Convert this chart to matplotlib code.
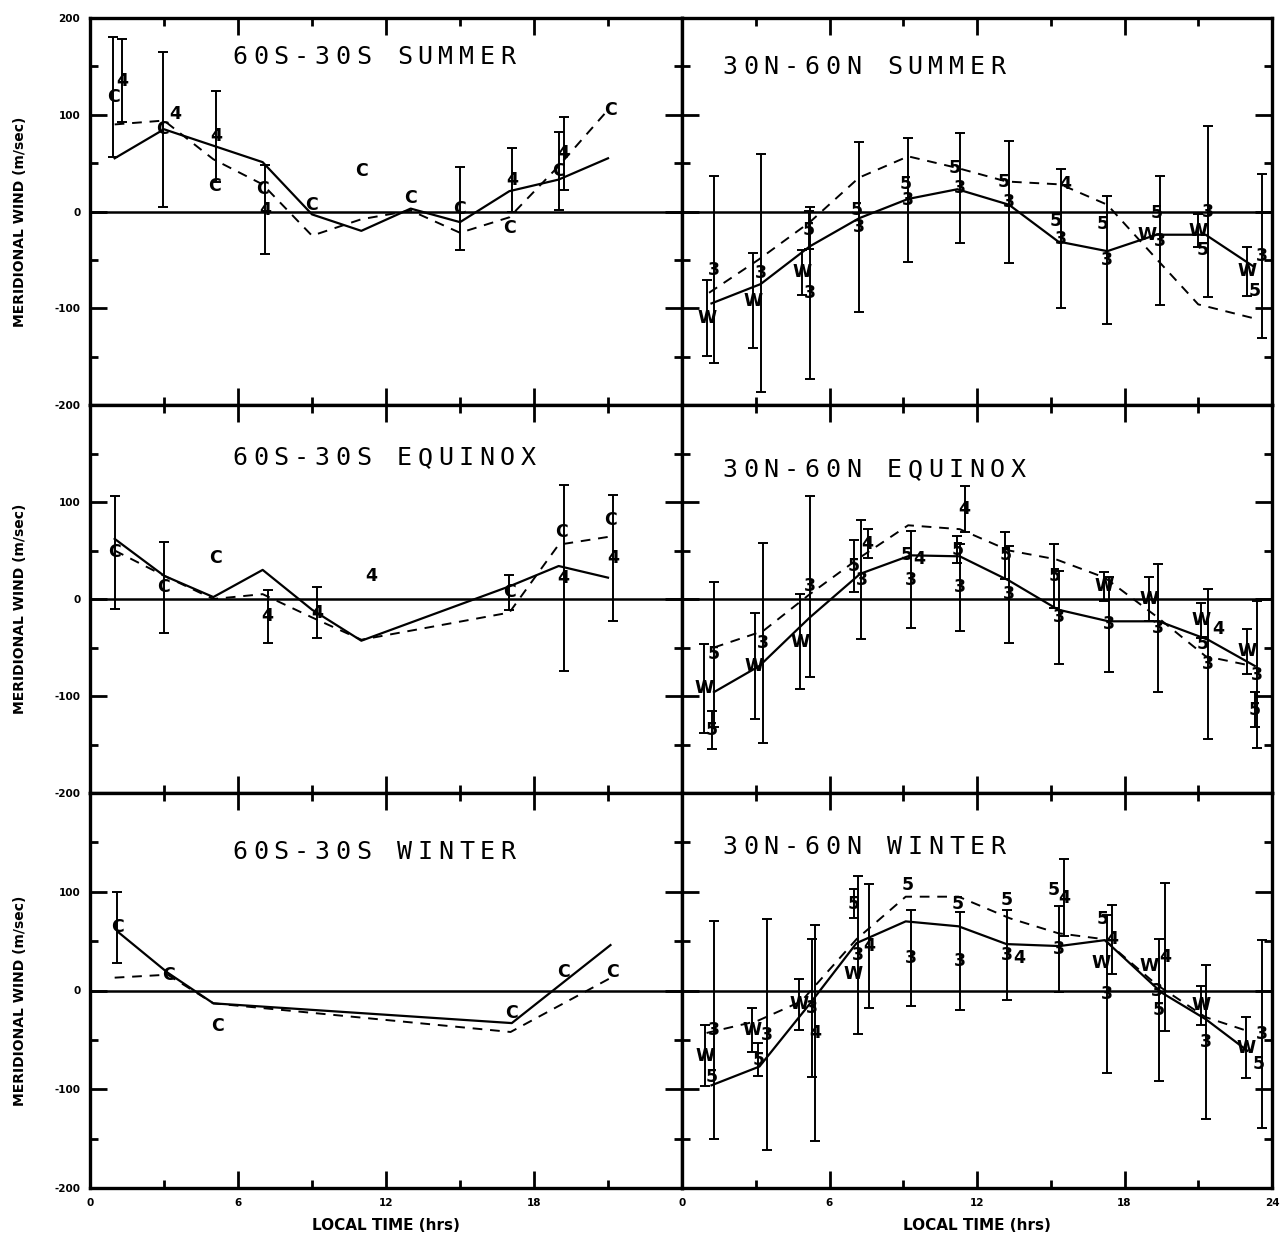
import matplotlib
matplotlib.use("Agg")
import matplotlib.pyplot as plt
from matplotlib import transforms
import numpy as np

# ---------------- data ----------------
# Panel 1: 60S-30S SUMMER
p1_solid_h = [1, 3, 7, 9, 11, 13, 15, 17, 19, 21]
p1_solid_v = [55, 85, 51, -3, -20, 3, -11, 21, 33, 55]
p1_dash_h = [1, 3, 5, 7, 9, 11, 13, 15, 17, 19, 21]
p1_dash_v = [90, 94, 54, 28, -25, -8, 1, -22, -6, 47, 105]
p1_lab = ["C", "4", "C", "4", "4", "C", "C", "4", "C", "C", "C", "C", "4", "C", "C", "4", "C"]
p1_h = [0.95, 1.3, 2.95, 3.45, 5.1, 5.05, 7.0, 7.1, 9.0, 11.0, 13.0, 15.0, 17.1, 17.0, 19.0, 19.2, 21.1]
p1_v = [118, 135, 85, 101, 78, 26, 23, 2, 7, 42, 14, 3, 33, -17, 42, 60, 105]
p1_e = [62, 43, 80, 0, 47, 0, 0, 46, 0, 0, 0, 43, 33, 0, 40, 38, 0]

# Panel 2: 30N-60N SUMMER
p2_solid_h = [1.2, 3.2, 5.2, 7.2, 9.2, 11.2, 13.3, 15.3, 17.3, 19.3, 21.3, 23.2]
p2_solid_v = [-95, -75, -36, -7, 13, 23, 7, -31, -41, -24, -24, -56]
p2_dash_h = [1.1, 3.1, 5.2, 7.2, 9.2, 11.2, 13.2, 15.4, 17.3, 19.3, 21.0, 23.2]
p2_dash_v = [-84, -50, -11, 35, 57, 45, 31, 28, 7, -49, -96, -110]
p2_lab = ["W", "3", "W", "3", "W", "5", "3", "5", "3", "5", "3", "5", "3", "5", "3",
          "4", "5", "3", "5", "3", "5", "W", "3", "3", "W", "5", "3", "W", "5"]
p2_h = [1.0, 1.3, 2.9, 3.2, 4.9, 5.15, 5.2, 7.1, 7.2, 9.1, 9.2, 11.1, 11.3, 13.1, 13.3,
        15.6, 15.2, 15.4, 17.1, 17.3, 19.3, 18.9, 19.45, 21.4, 21.0, 21.2, 23.6, 23.0, 23.3]
p2_v = [-110, -60, -92, -64, -63, -19, -84, 2, -16, 28, 12, 45, 24, 30, 10,
        28, -10, -28, -13, -50, -2, -24, -30, 0, -20, -40, -46, -62, -82]
p2_e = [39, 97, 49, 123, 23, 20, 89, 0, 88, 0, 64, 0, 57, 0, 63,
        0, 0, 72, 0, 66, 0, 0, 67, 88, 17, 0, 85, 25, 0]

# Panel 3: 60S-30S EQUINOX
p3_solid_h = [1, 3, 5, 7, 9, 11, 17, 19, 21]
p3_solid_v = [62, 24, 2, 30, -11, -43, 13, 34, 22]
p3_dash_h = [1, 3, 5, 7, 9, 11, 17, 19, 21]
p3_dash_v = [50, 24, 0, 5, -19, -42, -14, 56, 64]
p3_lab = ["C", "C", "C", "4", "4", "4", "C", "C", "4", "C", "4"]
p3_h = [1.0, 3.0, 5.1, 7.2, 9.2, 11.4, 17.0, 19.1, 19.2, 21.1, 21.2]
p3_v = [48, 12, 42, -18, -14, 24, 7, 69, 22, 81, 42]
p3_e = [58, 47, 0, 27, 26, 0, 18, 0, 96, 0, 65]

# Panel 4: 30N-60N EQUINOX
p4_solid_h = [1.3, 3.15, 5.2, 7.25, 9.3, 11.3, 13.3, 15.3, 17.35, 19.4, 21.4, 23.3]
p4_solid_v = [-96, -69, -19, 26, 45, 44, 19, -11, -23, -23, -42, -69]
p4_dash_h = [1.3, 3.3, 5.2, 7.25, 9.2, 11.3, 13.3, 15.2, 17.2, 19.3, 21.3, 23.0]
p4_dash_v = [-50, -33, 5, 43, 76, 72, 50, 41, 22, -18, -59, -68]
p4_lab = ["W", "5", "5", "W", "3", "W", "3", "5", "3", "4", "5", "4", "3", "5", "3", "4",
          "5", "3", "5", "3", "W", "3", "W", "3", "W", "5", "3", "4", "W", "3", "5"]
p4_h = [0.9, 1.3, 1.2, 2.95, 3.3, 4.8, 5.2, 7.0, 7.3, 7.55, 9.15, 9.65, 9.3, 11.2, 11.3, 11.5,
        13.15, 13.3, 15.15, 15.35, 17.15, 17.35, 19.0, 19.35, 21.1, 21.2, 21.4, 21.8, 23.0, 23.4, 23.3]
p4_v = [-92, -57, -135, -69, -45, -44, 13, 34, 20, 57, 45, 41, 20, 51, 12, 93,
        45, 5, 24, -19, 13, -26, 0, -30, -22, -46, -67, -31, -54, -78, -114]
p4_e = [46, 75, 20, 55, 103, 49, 93, 27, 61, 15, 0, 0, 50, 14, 45, 24,
        24, 50, 33, 48, 15, 49, 23, 66, 18, 0, 77, 0, 23, 76, 18]

# Panel 5: 60S-30S WINTER
p5_solid_h = [1.15, 3.15, 5.0, 17.1, 21.1]
p5_solid_v = [59, 18, -13, -33, 46]
p5_dash_h = [1.0, 3.15, 5.0, 17.05, 21.2]
p5_dash_v = [13, 16, -13, -42, 14]
p5_lab = ["C", "C", "C", "C", "C", "C"]
p5_h = [1.1, 3.2, 5.15, 17.1, 19.2, 21.2]
p5_v = [64, 16, -36, -23, 19, 19]
p5_e = [36, 0, 0, 0, 0, 0]

# Panel 6: 30N-60N WINTER
p6_solid_h = [1.2, 3.15, 5.15, 7.1, 9.1, 11.25, 13.2, 15.35, 17.2, 19.5, 21.3, 23.0]
p6_solid_v = [-96, -77, -15, 48, 70, 65, 47, 45, 51, -2, -29, -61]
p6_dash_h = [1.0, 3.05, 4.85, 7.1, 9.1, 11.25, 13.35, 15.3, 17.15, 19.3, 21.3, 23.0]
p6_dash_v = [-43, -31, -11, 52, 95, 95, 73, 58, 52, 6, -27, -41]
p6_lab = ["W", "5", "3", "W", "5", "3", "W", "3", "4", "5", "W", "3", "4", "5", "3", "5", "3",
          "5", "3", "4", "5", "4", "3", "5", "4", "W", "3", "W", "3", "5", "4", "W", "3",
          "W", "3", "5"]
p6_h = [0.95, 1.2, 1.3, 2.85, 3.1, 3.45, 4.75, 5.3, 5.4, 7.0, 6.95, 7.15, 7.6, 9.2, 9.3, 11.2, 11.3,
        13.2, 13.2, 13.7, 15.1, 15.55, 15.35, 17.1, 17.5, 17.05, 17.3, 19.0, 19.3, 19.4, 19.65,
        21.1, 21.3, 22.95, 23.6, 23.45]
p6_v = [-66, -88, -40, -40, -70, -45, -14, -18, -43, 88, 17, 36, 45, 107, 33, 88, 30,
        92, 36, 33, 102, 94, 42, 72, 52, 28, -4, 25, 0, -20, 34,
        -15, -52, -58, -44, -74]
p6_e = [31, 0, 110, 22, 17, 117, 26, 70, 109, 15, 0, 80, 63, 0, 49, 0, 50,
        0, 46, 0, 0, 39, 44, 0, 35, 0, 80, 0, 0, 72, 75,
        20, 78, 31, 95, 0]

titles = ["60S-30S SUMMER", "30N-60N SUMMER",
          "60S-30S EQUINOX", "30N-60N EQUINOX",
          "60S-30S WINTER", "30N-60N WINTER"]
x_major = [0, 6, 12, 18, 24]
x_minor = [3, 9, 15, 21]
y_major = [-200, -100, 0, 100, 200]
y_minor = [-150, -50, 50, 150]

panels = [
    (p1_solid_h, p1_solid_v, p1_dash_h, p1_dash_v, p1_lab, p1_h, p1_v, p1_e),
    (p2_solid_h, p2_solid_v, p2_dash_h, p2_dash_v, p2_lab, p2_h, p2_v, p2_e),
    (p3_solid_h, p3_solid_v, p3_dash_h, p3_dash_v, p3_lab, p3_h, p3_v, p3_e),
    (p4_solid_h, p4_solid_v, p4_dash_h, p4_dash_v, p4_lab, p4_h, p4_v, p4_e),
    (p5_solid_h, p5_solid_v, p5_dash_h, p5_dash_v, p5_lab, p5_h, p5_v, p5_e),
    (p6_solid_h, p6_solid_v, p6_dash_h, p6_dash_v, p6_lab, p6_h, p6_v, p6_e),
]

# ---------------- layout ----------------
W, H = 1285, 1239
fig = plt.figure(figsize=(W / 100, H / 100), dpi=100)
col_x = [(90, 592), (682, 590)]
row_y = [(18, 405), (405, 793), (793, 1188)]
title_pos = [(0.253, 0.90), (0.081, 0.873),
             (0.253, 0.863), (0.081, 0.832),
             (0.253, 0.85), (0.081, 0.863)]


def spaced(ax, x, y, s, step=20.6, size=18):
    for i, ch in enumerate(s):
        if ch == " ":
            continue
        tr = transforms.offset_copy(ax.transAxes, fig=fig, x=i * step, y=0, units="dots")
        ax.text(x, y, ch, transform=tr, fontsize=size, ha="center", va="center",
                family="DejaVu Sans Mono", color="black")


for idx, (sh, sv, dh, dv, lab, mh, mv, me) in enumerate(panels):
    r, c = divmod(idx, 2)
    x0, w = col_x[c]
    ytop, ybot = row_y[r]
    ax = fig.add_axes([x0 / W, 1 - ybot / H, w / W, (ybot - ytop) / H])
    ax.set_xlim(0, 24)
    ax.set_ylim(-200, 200)
    ax.axhline(0, color="black", lw=1.8, zorder=1)
    ax.plot(sh, sv, color="black", lw=1.6, zorder=2)
    ax.plot(dh, dv, color="black", lw=1.4, ls=(0, (5, 4)), zorder=2)
    eh = [h for h, e in zip(mh, me) if e > 0]
    ev = [v for v, e in zip(mv, me) if e > 0]
    ee = [e for e in me if e > 0]
    ax.errorbar(eh, ev, yerr=ee, fmt="none", ecolor="black", elinewidth=1.4,
                capsize=3.5, capthick=1.4, zorder=3)
    for l, h, v in zip(lab, mh, mv):
        ax.text(h, v, l, ha="center", va="center", fontsize=12.5, fontweight="bold",
                color="black", zorder=4)
    for sp in ax.spines.values():
        sp.set_linewidth(2.4)
    ax.set_xticks(x_major)
    ax.set_xticks(x_minor, minor=True)
    ax.set_yticks(y_major)
    ax.set_yticks(y_minor, minor=True)
    ax.tick_params(which="major", direction="in", length=12, width=2,
                   top=True, right=True, labelsize=7.5, pad=7)
    ax.tick_params(which="minor", direction="in", length=6, width=2,
                   top=True, right=True)
    if r == 2:
        if c == 0:
            ax.set_xticklabels([str(t) for t in x_major[:-1]] + [""])
        else:
            ax.set_xticklabels([str(t) for t in x_major])
        for t in ax.get_xticklabels():
            t.set_fontweight("bold")
    else:
        ax.set_xticklabels([])
    if c == 0:
        if r == 0:
            ax.set_yticklabels([str(t) for t in y_major])
        else:
            ax.set_yticklabels([str(t) for t in y_major[:-1]] + [""])
        for t in ax.get_yticklabels():
            t.set_fontweight("bold")
    else:
        ax.set_yticklabels([])
    tx, ty = title_pos[idx]
    spaced(ax, tx, ty, titles[idx])

# axis labels
for r in range(3):
    ytop, ybot = row_y[r]
    fig.text(20 / W, 1 - ((ytop + ybot) / 2 + 10) / H, "MERIDIONAL WIND (m/sec)",
             rotation=90, ha="center", va="center", fontsize=10, fontweight="bold")
for c in range(2):
    x0, w = col_x[c]
    fig.text((x0 + w / 2) / W, 1 - 1225 / H, "LOCAL TIME (hrs)",
             ha="center", va="center", fontsize=11, fontweight="bold")

fig.savefig("out.png", dpi=100)
